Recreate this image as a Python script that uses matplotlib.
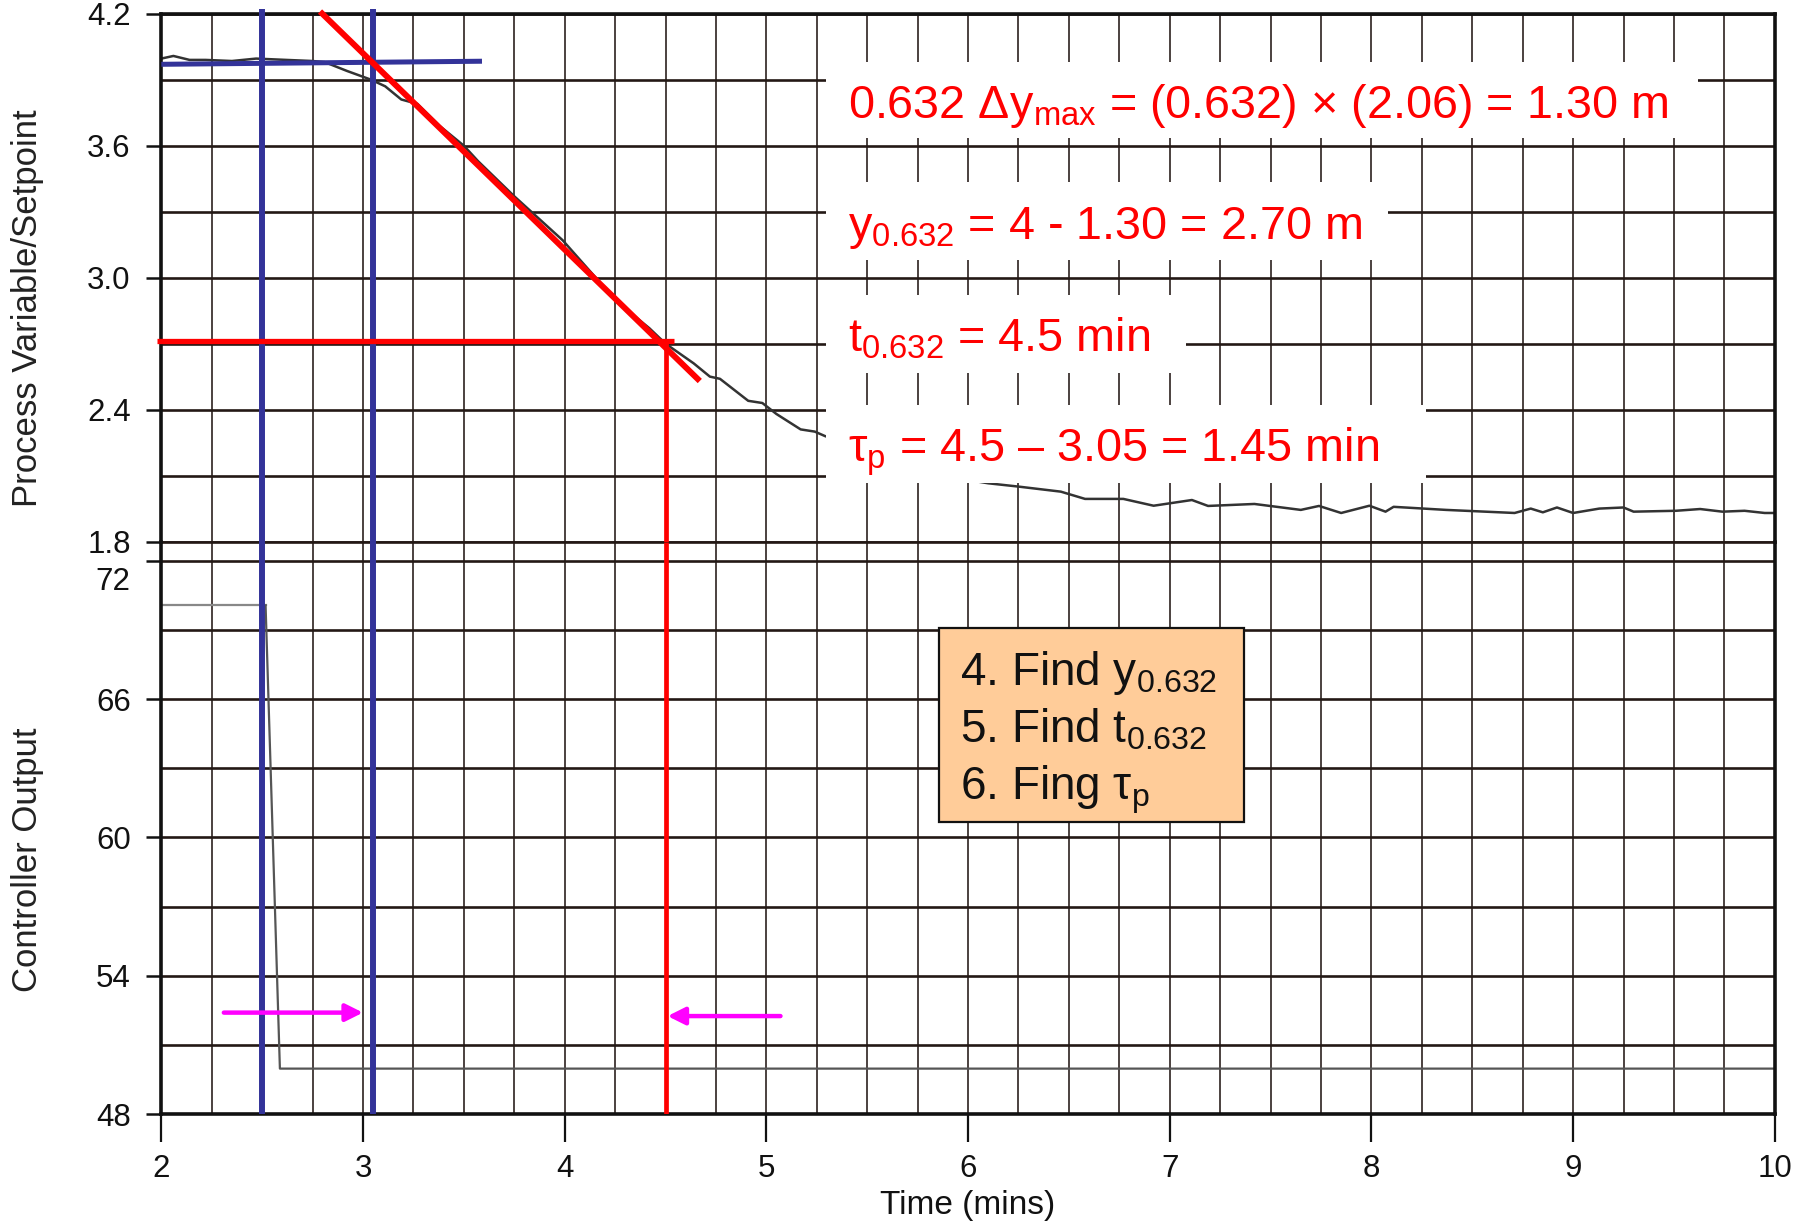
import matplotlib
matplotlib.use('Agg')
import matplotlib.pyplot as plt
from matplotlib.patches import Rectangle
import matplotlib.transforms as mtransforms
import numpy as np

plt.rcParams['font.family'] = ['Liberation Sans', 'DejaVu Sans']
plt.rcParams['mathtext.fontset'] = 'custom'
plt.rcParams['mathtext.rm'] = 'Liberation Sans'
plt.rcParams['mathtext.it'] = 'Liberation Sans'
plt.rcParams['mathtext.bf'] = 'Liberation Sans:bold'

# ---------------- data ----------------
time_pv = [2.0, 2.06, 2.14, 2.22, 2.35, 2.47, 2.62, 2.75, 2.81, 2.92, 3.04, 3.11,
           3.19, 3.27, 3.38, 3.5, 3.57, 3.75, 3.99, 4.26, 4.42, 4.5, 4.64, 4.72,
           4.77, 4.91, 4.98, 5.05, 5.17, 5.24, 5.29, 5.5, 5.75, 6.0, 6.1, 6.25,
           6.46, 6.58, 6.77, 6.92, 7.11, 7.19, 7.42, 7.65, 7.74, 7.85, 7.99, 8.07,
           8.11, 8.37, 8.71, 8.79, 8.85, 8.92, 9.0, 9.13, 9.25, 9.3, 9.51, 9.63,
           9.74, 9.85, 9.95, 10.0]
pv = [3.996, 4.008, 3.99, 3.99, 3.985, 3.996, 3.99, 3.985, 3.98, 3.94, 3.90, 3.87,
      3.81, 3.79, 3.69, 3.6, 3.53, 3.37, 3.17, 2.89, 2.77, 2.70, 2.61, 2.55,
      2.54, 2.44, 2.43, 2.38, 2.31, 2.30, 2.28, 2.21, 2.14, 2.08, 2.065, 2.05,
      2.027, 1.994, 1.994, 1.963, 1.989, 1.962, 1.971, 1.944, 1.962, 1.93, 1.963, 1.936,
      1.958, 1.944, 1.93, 1.95, 1.933, 1.955, 1.93, 1.95, 1.955, 1.936, 1.94, 1.948,
      1.936, 1.94, 1.93, 1.93]

time_co = [2.0, 2.517, 2.588, 10.0]
co = [70.07, 70.07, 49.97, 49.97]

x_ticks = [2, 3, 4, 5, 6, 7, 8, 9, 10]
x_grid = [2 + 0.25 * i for i in range(33)]
pv_ticks = [1.8, 2.4, 3.0, 3.6, 4.2]
pv_grid = [1.8, 2.1, 2.4, 2.7, 3.0, 3.3, 3.6, 3.9, 4.2]
co_ticks = [48, 54, 60, 66, 72]
co_grid = [48, 51, 54, 57, 60, 63, 66, 69, 72]

# graphical-analysis construction values
step_time = 2.5
dead_end = 3.05
t632 = 4.5
y632 = 2.71
base_t = [2.0, 3.59]
base_y = [3.97, 3.984]
tangent_t = [2.787, 4.67]
tangent_y = [4.21, 2.53]
y632_span = [1.98, 4.54]
arrow1 = ([2.31, 52.4], [3.0, 52.4])
arrow2 = ([5.07, 52.25], [4.51, 52.25])

# ---------------- figure ----------------
fig = plt.figure(figsize=(18.07, 12.25), dpi=100)
L, W = 0.08927, 0.8929
ax_pv = fig.add_axes([L, 0.5579, W, 0.4309])
ax_co = fig.add_axes([L, 0.0906, W, 0.4673], sharex=ax_pv)
ax_co.patch.set_facecolor('none')

grid_c = '#231815'
for ax in (ax_pv, ax_co):
    ax.set_axisbelow(True)
    ax.set_xlim(2, 10)
    ax.set_xticks(x_ticks)
    ax.set_xticks(x_grid, minor=True)
    ax.grid(True, axis='x', which='both', color=grid_c, lw=1.15)
    ax.grid(True, axis='y', which='both', color=grid_c, lw=1.9)
    ax.tick_params(which='minor', length=0)
    ax.tick_params(axis='y', which='major', direction='out', length=11, width=1.8,
                   pad=11, labelsize=22.5, colors='#111111')
    for s in ax.spines.values():
        s.set_linewidth(2.6)
        s.set_color('#111111')

ax_pv.set_ylim(1.8, 4.2)
ax_pv.set_yticks(pv_ticks)
ax_pv.set_yticklabels([f'{v:.1f}' for v in pv_ticks])
ax_pv.set_yticks(pv_grid, minor=True)
ax_pv.tick_params(axis='x', which='both', length=0, labelbottom=False)
ax_pv.spines['bottom'].set_linewidth(1.9)
ax_pv.spines['bottom'].set_color(grid_c)

ax_co.set_ylim(48, 72.84)
ax_co.set_yticks(co_ticks)
ax_co.set_yticklabels([str(v) for v in co_ticks[:-1]] + [''])
ax_co.set_yticks(co_grid, minor=True)
ax_co.spines['top'].set_visible(False)
ax_co.tick_params(axis='x', which='major', direction='out', length=20, width=1.6,
                  pad=9, labelsize=22.5, colors='#111111')
trans72 = mtransforms.blended_transform_factory(ax_co.transAxes, ax_co.transData)
ax_co.text(-0.0194, 71.1, str(co_ticks[-1]), transform=trans72, ha='right',
           va='center', fontsize=22.5, color='#111111')

ax_pv.set_ylabel('Process Variable/Setpoint', fontsize=25, color='#222222')
ax_pv.yaxis.set_label_coords(-0.0727, 0.443)
ax_co.set_ylabel('Controller Output', fontsize=25, color='#222222')
ax_co.yaxis.set_label_coords(-0.0727, 0.444)
ax_co.set_xlabel('Time (mins)', fontsize=24, color='#111111')
ax_co.xaxis.set_label_coords(0.5, -0.133)

# data curves
ax_pv.plot(time_pv, pv, color='#333333', lw=1.8, zorder=2)
ax_co.plot(time_co[:2], co[:2], color='#888888', lw=1.6, zorder=2)
ax_co.plot(time_co[1:], co[1:], color='#555555', lw=1.6, zorder=2)

# construction lines
blue = '#333399'
red = '#FF0000'
ax_pv.plot(base_t, base_y, color=blue, lw=3.6, zorder=3, solid_capstyle='butt')
ax_pv.vlines([step_time, dead_end], 1.8, 4.22, color=blue, lw=4.3, zorder=3, clip_on=False)
ax_co.vlines([step_time, dead_end], 48, 72.84, color=blue, lw=4.3, zorder=3)
ax_pv.plot(tangent_t, tangent_y, color=red, lw=4.3, zorder=3, clip_on=False,
           solid_capstyle='butt')
ax_pv.plot(y632_span, [y632, y632], color=red, lw=3.8, zorder=3, clip_on=False,
           solid_capstyle='butt')
ax_pv.vlines(t632, 1.8, y632, color=red, lw=3.4, zorder=3)
ax_co.vlines(t632, 48, 72.84, color=red, lw=3.4, zorder=3)

for start, end in (arrow1, arrow2):
    ax_co.annotate('', xy=end, xytext=start,
                   arrowprops=dict(arrowstyle='-|>', color='#FF00FF', lw=3.2,
                                   mutation_scale=26, shrinkA=0, shrinkB=0),
                   zorder=4)

# white text panels (t0, y0, t1, y1)
panels = [(5.295, 3.635, 9.62, 3.98),
          (5.295, 3.08, 8.08, 3.435),
          (5.295, 2.567, 7.08, 2.92),
          (5.295, 2.066, 8.27, 2.42)]
for t0, y0, t1, y1 in panels:
    ax_pv.add_patch(Rectangle((t0, y0), t1 - t0, y1 - y0, facecolor='white',
                              edgecolor='none', zorder=4))

red_texts = [r'0.632 Δ$\mathregular{y_{max}}$ = (0.632) × (2.06) = 1.30 m',
             r'$\mathregular{y_{0.632}}$ = 4 - 1.30 = 2.70 m',
             r'$\mathregular{t_{0.632}}$ = 4.5 min',
             r'$\mathregular{τ_p}$ = 4.5 – 3.05 = 1.45 min']
red_baselines = [3.726, 3.176, 2.662, 2.162]
for txt, yb in zip(red_texts, red_baselines):
    ax_pv.text(5.405, yb, txt, color=red, fontsize=33.7, ha='left', va='baseline',
               zorder=5)

# orange step box
ax_co.add_patch(Rectangle((5.855, 60.67), 1.512, 8.42, facecolor='#FFCC99',
                          edgecolor='#111111', lw=1.6, zorder=4))
box_texts = [r'4. Find $\mathregular{y_{0.632}}$',
             r'5. Find $\mathregular{t_{0.632}}$',
             r'6. Fing $\mathregular{τ_p}$']
box_baselines = [66.62, 64.14, 61.63]
for txt, yb in zip(box_texts, box_baselines):
    ax_co.text(5.96, yb, txt, color='#111111', fontsize=33, ha='left',
               va='baseline', zorder=5)

fig.savefig('out.png', dpi=100)
